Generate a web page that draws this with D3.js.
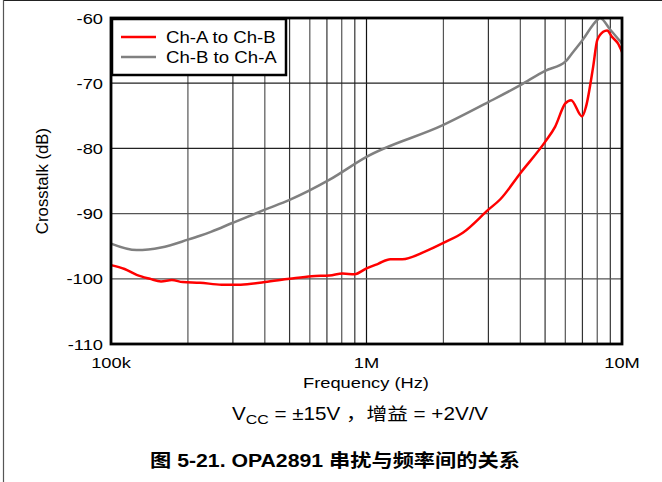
<!DOCTYPE html>
<html><head><meta charset="utf-8">
<script src="https://cdn.jsdelivr.net/npm/d3@7"></script>
<style>body{margin:0;background:#fff}svg{display:block}</style>
</head><body>
<svg id="c" width="662" height="482"></svg>
<script>
const seriesNames = ["Ch-A to Ch-B", "Ch-B to Ch-A"];
const seriesColors = ["#ff0000", "#808080"];
const chAtoB_freq = [1e5,1.13e5,1.26e5,1.42e5,1.57e5,1.73e5,1.91e5,2.23e5,2.71e5,3.22e5,4e5,5e5,6.1e5,7.17e5,8.06e5,8.98e5,1e6,1.11e6,1.24e6,1.38e6,1.7e6,2e6,2.39e6,3e6,3.34e6,4e6,5e6,5.47e6,6e6,6.32e6,6.98e6,7.23e6,7.71e6,8e6,8.44e6,8.74e6,9.14e6,9.64e6,1e7];
const chAtoB_db = [-97.9,-98.5,-99.4,-100,-100.4,-100.2,-100.5,-100.6,-100.9,-100.9,-100.5,-100,-99.6,-99.5,-99.2,-99.3,-98.4,-97.7,-97.0,-97.0,-95.8,-94.5,-92.9,-89.4,-87.8,-83.8,-79,-76.7,-73.1,-72.6,-75.1,-73.6,-67.5,-63.4,-62.1,-61.9,-62.9,-63.9,-65.2];
const chBtoA_freq = [1e5,1.26e5,1.57e5,2e5,2.23e5,2.46e5,3e5,4e5,5e5,7.17e5,1e6,2e6,3e6,4e6,5e6,6e6,6.38e6,7e6,8e6,8.2e6,9e6,1e7];
const chBtoA_db = [-94.6,-95.6,-95.2,-94.0,-93.4,-92.8,-91.4,-89.4,-87.9,-84.8,-81.3,-76.4,-72.9,-70.3,-68.1,-66.7,-65.4,-63.4,-60.3,-60.0,-61.8,-63.9];
const yTicks = [-60,-70,-80,-90,-100,-110];
const xTickVals = [1e5,1e6,1e7];
const xTickLabels = ["100k","1M","10M"];

const svg = d3.select("#c");
const L=111,R=622,T=18,B=344;
const x = d3.scaleLog().domain([1e5,1e7]).range([L,R]);
const y = d3.scaleLinear().domain([-110,-60]).range([B,T]);
const font = "Arial, 'Liberation Sans', sans-serif";
const cjk = "Arial, 'Liberation Sans', 'Noto Sans CJK SC', sans-serif";
const SX = 1.18;

function txt(parent, px, py, str, size, anchor, opts={}) {
  const t = parent.append("text")
    .attr("transform", `translate(${px},${py}) scale(${opts.sx||SX},1)`)
    .attr("text-anchor", anchor||"start")
    .attr("font-family", opts.family||font)
    .attr("font-size", size).attr("fill","#000");
  if (opts.weight) t.attr("font-weight", opts.weight);
  if (str !== null) t.text(str);
  return t;
}

// frame
svg.append("line").attr("x1",3.5).attr("x2",662).attr("y1",0.5).attr("y2",0.5).attr("stroke","#222").attr("stroke-width",1.2);
svg.append("line").attr("x1",3.5).attr("x2",3.5).attr("y1",0).attr("y2",482).attr("stroke","#555").attr("stroke-width",1.2);

// grid
const minor=[];
for (let d of [1e5,1e6]) for (let k=2;k<=9;k++) minor.push(d*k);
svg.append("g").selectAll("line").data(minor).join("line")
  .attr("x1",d=>x(d)).attr("x2",d=>x(d)).attr("y1",T).attr("y2",B)
  .attr("stroke",(d,i)=> (i%2? "#333":"#555")).attr("stroke-width",1.2);
svg.append("g").selectAll("line").data([1e6]).join("line")
  .attr("x1",d=>x(d)).attr("x2",d=>x(d)).attr("y1",T).attr("y2",B).attr("stroke","#111").attr("stroke-width",1.2);
svg.append("g").selectAll("line").data(yTicks.slice(1,-1)).join("line")
  .attr("x1",L).attr("x2",R).attr("y1",d=>y(d)).attr("y2",d=>y(d))
  .attr("stroke",d=> d>-85?"#222":"#555").attr("stroke-width",1.2);

// curves
const line = d3.line().x(d=>x(d[0])).y(d=>y(d[1])).curve(d3.curveMonotoneX);
svg.append("path").datum(d3.zip(chBtoA_freq,chBtoA_db)).attr("d",line)
  .attr("fill","none").attr("stroke",seriesColors[1]).attr("stroke-width",2.5);
svg.append("path").datum(d3.zip(chAtoB_freq,chAtoB_db)).attr("d",line)
  .attr("fill","none").attr("stroke",seriesColors[0]).attr("stroke-width",2.5);

// plot border
svg.append("rect").attr("x",L).attr("y",T).attr("width",R-L).attr("height",B-T)
  .attr("fill","none").attr("stroke","#000").attr("stroke-width",2.8);

// legend
const lg = svg.append("g");
lg.append("rect").attr("x",L+1).attr("y",T+1).attr("width",174).attr("height",56)
  .attr("fill","#fff").attr("stroke","#000").attr("stroke-width",2.5);
seriesNames.forEach((n,i)=>{
  const yy = 37 + i*20;
  lg.append("line").attr("x1",121).attr("x2",156).attr("y1",yy).attr("y2",yy)
    .attr("stroke",seriesColors[i]).attr("stroke-width",2.5);
  txt(lg, 166, yy+5.5, n, 15.8, "start");
});

// y ticks
const gy = svg.append("g");
yTicks.forEach(d => txt(gy, 103, y(d)+5.5, String(d), 15.5, "end"));
// x ticks
const gx = svg.append("g");
xTickVals.forEach((d,i) => txt(gx, x(d), 368, xTickLabels[i], 15.5, "middle"));

// axis titles
svg.append("text").attr("transform","translate(48,181) rotate(-90)").attr("text-anchor","middle")
  .attr("font-family",font).attr("font-size",16.8).text("Crosstalk (dB)");
txt(svg, 366, 388, "Frequency (Hz)", 15.5, "middle");

const cond = txt(svg, 360, 420, null, 17.5, "middle", {family: cjk});
cond.append("tspan").text("V");
cond.append("tspan").attr("font-size",13.5).attr("dy",4).text("CC");
cond.append("tspan").attr("dy",-4).text(" = ±15V ，增益 = +2V/V");

txt(svg, 335, 467, "图 5-21. OPA2891 串扰与频率间的关系", 18, "middle", {family: cjk, weight: "bold"});
</script>
</body></html>
